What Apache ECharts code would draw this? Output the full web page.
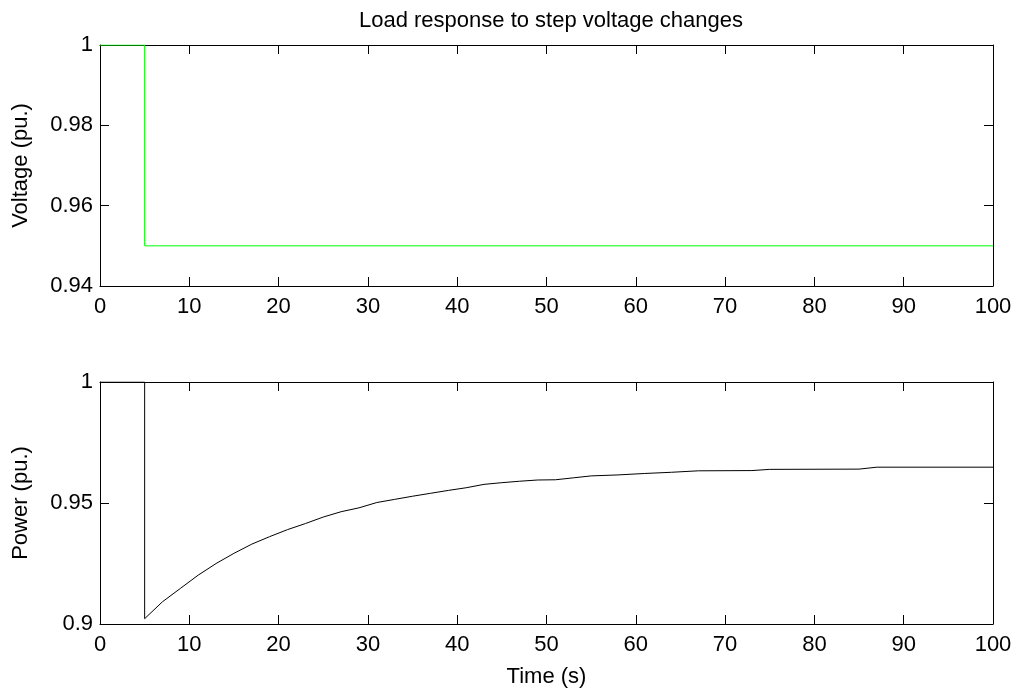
<!DOCTYPE html>
<html>
<head>
<meta charset="utf-8">
<script src="https://cdn.jsdelivr.net/npm/echarts@6/dist/echarts.min.js"></script>
<style>html,body{margin:0;padding:0;background:#fff}#c{width:1019px;height:690px}</style>
</head>
<body>
<div id="c"></div>
<script>
var titleText = 'Load response to step voltage changes';
var xName = 'Time (s)';
var yNames = ['Voltage (pu.)', 'Power (pu.)'];
var xTicks = [0, 100, 10];
var voltageTime = [0, 5, 5, 100];
var voltageValues = [1, 1, 0.95, 0.95];
var powerTime = [0, 5, 5, 7, 9, 11, 13, 15, 17, 19, 21, 23, 25, 27, 29, 31, 33, 35, 37, 39, 41, 43, 45, 47, 49, 51, 53, 55, 58, 61, 64, 67, 73, 75, 85, 87, 100];
var powerValues = [1, 1, 0.9022, 0.9092, 0.9147, 0.9202, 0.925, 0.9292, 0.933, 0.9361, 0.939, 0.9415, 0.9442, 0.9464, 0.948, 0.9502, 0.9515, 0.9528, 0.954, 0.9552, 0.9563, 0.9577, 0.9584, 0.959, 0.9595, 0.9596, 0.9604, 0.9612, 0.9616, 0.9622, 0.9627, 0.9633, 0.9634, 0.9639, 0.964, 0.9648, 0.9648];
var yTop = [0.94, 1, 0.02];
var yBottom = [0.9, 1, 0.05];

function zip(a, b) { return a.map(function (v, i) { return [v, b[i]]; }); }
var FONT = 'Liberation Sans, Arial, Helvetica, sans-serif';
var FS = 22;
var fmt = function (v) { return String(parseFloat(v.toFixed(4))); };

function xAx(gi, pos, show) {
  return {
    type: 'value', gridIndex: gi, position: pos, min: xTicks[0], max: xTicks[1], interval: xTicks[2],
    name: (show && gi === 1) ? xName : '', nameLocation: 'middle', nameGap: 42,
    nameTextStyle: { fontFamily: FONT, fontSize: FS, color: '#000' },
    axisLine: { show: true, onZero: false, lineStyle: { color: '#000', width: 1 } },
    axisTick: { show: true, inside: true, length: 9, lineStyle: { color: '#000' } },
    axisLabel: { show: show, margin: 10, fontFamily: FONT, fontSize: FS, color: '#000', formatter: fmt },
    splitLine: { show: false }
  };
}
function yAx(gi, pos, show, r) {
  return {
    type: 'value', gridIndex: gi, position: pos, min: r[0], max: r[1], interval: r[2],
    name: show ? yNames[gi] : '', nameLocation: 'middle', nameGap: 68, nameRotate: 90,
    nameTextStyle: { fontFamily: FONT, fontSize: FS, color: '#000' },
    axisLine: { show: true, onZero: false, lineStyle: { color: '#000', width: 1 } },
    axisTick: { show: true, inside: true, length: 9, lineStyle: { color: '#000' } },
    axisLabel: { show: show, margin: 7, fontFamily: FONT, fontSize: FS, color: '#000', formatter: fmt },
    splitLine: { show: false }
  };
}

var chart = echarts.init(document.getElementById('c'), null, { renderer: 'canvas' });
chart.setOption({
  backgroundColor: '#fff',
  animation: false,
  title: { text: titleText, left: 546, textAlign: 'center', top: 5,
    textStyle: { fontFamily: FONT, fontSize: FS, fontWeight: 'normal', color: '#000' } },
  grid: [
    { left: 100, right: 26, top: 45, height: 241, containLabel: false, outerBoundsMode: 'none' },
    { left: 100, right: 26, top: 382, height: 242, containLabel: false, outerBoundsMode: 'none' }
  ],
  xAxis: [xAx(0, 'bottom', true), xAx(0, 'top', false), xAx(1, 'bottom', true), xAx(1, 'top', false)],
  yAxis: [yAx(0, 'left', true, yTop), yAx(0, 'right', false, yTop), yAx(1, 'left', true, yBottom), yAx(1, 'right', false, yBottom)],
  series: [
    { type: 'line', xAxisIndex: 0, yAxisIndex: 0, data: zip(voltageTime, voltageValues), showSymbol: false,
      lineStyle: { color: '#00ff00', width: 1 }, clip: true },
    { type: 'line', xAxisIndex: 2, yAxisIndex: 2, data: zip(powerTime, powerValues), showSymbol: false,
      lineStyle: { color: '#000', width: 1 }, clip: true }
  ]
});
</script>
</body>
</html>
